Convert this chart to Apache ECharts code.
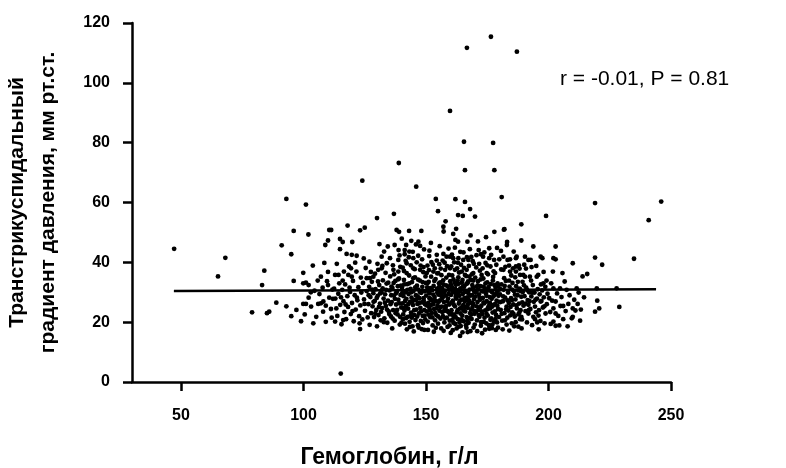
<!DOCTYPE html>
<html><head><meta charset="utf-8">
<script src="https://cdn.jsdelivr.net/npm/echarts@6/dist/echarts.min.js"></script>
<style>html,body{margin:0;padding:0;background:#fff}#c{width:786px;height:468px}</style>
</head><body><div id="c"></div>
<script>
const xTicks = [50, 100, 150, 200, 250];
const xTitle = 'Гемоглобин, г/л';
const yTitle = 'Транстрикуспидальный\nградиент давления, мм рт.ст.';
const statText = 'r = -0.01, P = 0.81';
const trendLine = [[47.1, 30.4], [243.9, 31.0]];
const points = [
[47.2,44.5],[65.1,35.3],[68.1,41.5],[79.0,23.3],[83.1,32.4],[84.0,37.2],[85.1,23.0],[86.0,23.5],[88.9,26.5],[91.1,45.7],[93.0,61.2],[93.0,25.3],[95.0,42.7],[95.0,22.0],[96.0,50.5],[96.0,33.8],[97.1,24.1],[99.0,20.3],[99.9,36.5],[99.9,33.0],[99.9,26.1],
[101.0,59.3],[101.0,33.2],[101.0,26.1],[102.0,49.3],[102.1,32.4],[102.1,28.2],[103.1,25.2],[106.0,26.1],[107.1,26.3],[107.1,35.2],[108.0,23.5],[108.1,26.9],[108.9,45.8],[109.1,25.5],[109.1,20.1],[110.0,47.3],[110.0,36.8],[110.0,32.4],[110.5,50.8],[110.5,28.2],
[104.5,30.5],[105.2,21.8],[103.8,38.9],[106.5,29.4],[111.2,24.4],[111.8,30.9],[104.0,19.6],[107.8,31.5],[111.5,21.5],[105.8,33.9],[100.5,22.6],[108.5,39.8],[112.0,27.8],[103.0,30.0],[109.6,33.7],
[111.3,50.8],[112.9,35.8],[112.9,20.2],[114.3,35.8],[114.9,47.8],[114.9,44.4],[115.2,2.8],[116.0,46.8],[116.2,20.7],[117.6,42.8],[118.0,52.3],[118.3,35.8],[119.7,42.5],[119.7,35.2],[119.9,46.8],[121.7,42.2],[123.1,50.7],[123.1,17.7],[124.0,67.3],[125.0,51.6],[125.8,34.7],
[112.5,31.2],[113.0,27.9],[113.4,24.6],[113.8,22.1],[114.2,29.5],[114.6,33.0],[115.0,25.8],[115.5,19.3],[115.8,30.8],[116.3,27.0],[116.7,23.4],[117.0,32.6],[117.4,21.0],[117.9,28.7],[118.2,25.1],[118.6,38.6],[119.0,30.1],[119.3,22.7],[119.8,26.4],[120.2,33.8],[120.5,20.3],[120.9,29.0],[121.3,24.2],[121.6,36.9],[122.0,27.3],[122.4,31.7],[122.7,22.0],[123.2,25.6],[123.6,29.9],[124.0,20.9],[124.3,33.1],[124.7,27.6],[125.1,23.8],[125.4,38.1],[125.8,30.4],[126.2,21.6],
[113.6,39.5],[116.5,36.9],[121.1,39.9],[124.6,41.3],
[115.3,28.3],[117.2,25.9],[118.8,31.5],[120.0,23.7],[121.8,28.2],[123.4,34.9],[124.9,26.1],[126.6,29.0],[127.5,36.8],[122.9,19.6],[119.4,38.0],[116.0,33.9],
[127.1,34.7],[128.5,35.2],[130.0,54.8],[130.5,37.5],[131.9,41.9],[131.9,38.0],[132.9,43.6],[135.3,41.4],[136.7,37.5],[136.9,56.2],[137.2,45.8],[138.0,50.8],[138.7,40.8],[138.7,36.9],[138.8,44.1],[138.9,73.2],[139.0,50.2],
[126.5,26.0],[126.8,31.8],[127.0,19.1],[127.3,28.4],[127.6,23.0],[127.9,33.5],[128.2,25.3],[128.5,29.7],[128.8,21.7],[129.1,27.1],[129.4,31.0],[129.7,24.1],[130.0,18.6],[129.2,36.2],[126.9,40.2],
[130.3,28.8],[130.6,22.4],[130.9,32.4],[131.2,26.2],[131.5,20.6],[131.8,30.0],[132.1,24.7],[132.4,34.0],[132.7,27.9],[133.0,21.3],[133.3,29.3],[133.6,25.4],[133.9,32.9],[134.2,19.8],[134.5,27.2],[134.8,23.6],[135.1,30.6],[135.4,35.3],[135.7,21.9],[132.2,38.8],[134.0,39.7],
[136.0,26.7],[136.3,31.4],[136.6,24.0],[136.9,28.9],[137.2,20.5],[137.5,33.8],[137.8,25.9],[138.1,30.2],[138.4,22.6],[138.7,27.5],[139.0,34.6],[139.3,19.2],[139.6,29.1],[139.9,24.9],[136.2,17.9],[137.0,36.0],[138.5,32.0],[139.5,38.5],[135.8,29.0],[137.6,23.0],
[128.0,30.9],[128.6,26.8],[129.3,22.9],[129.9,28.1],[130.4,33.6],[130.8,25.1],[131.3,29.6],[131.7,23.5],[132.3,31.3],[132.8,20.0],[133.2,26.5],[133.7,30.8],[134.1,24.2],[134.6,33.2],[135.0,22.7],[135.5,26.0],[135.9,31.9],[136.4,21.2],[136.8,33.1],[137.3,27.8],[137.7,29.6],[138.2,24.1],[138.6,34.3],[139.1,26.3],[139.4,21.8],[139.8,32.2],[130.2,39.5],[133.5,36.5],[136.5,39.0],[139.2,42.3],[134.4,45.3],[131.0,46.1],
[140.1,47.9],[141.3,44.1],[141.3,42.7],[141.9,45.8],[142.1,39.7],[142.1,36.4],[143.1,50.5],[143.2,43.6],[144.0,47.2],[144.8,41.4],[144.8,38.0],[145.9,46.0],[146.0,65.3],[146.9,46.9],[147.6,45.5],[147.6,37.5],[148.1,50.5],[148.2,17.7],[149.3,17.4],
[140.2,31.5],[140.4,26.3],[140.6,21.0],[140.8,28.7],[141.0,34.1],[141.2,23.9],[141.4,19.5],[141.6,30.0],[141.8,25.4],[142.0,27.8],[142.3,32.7],[142.5,21.8],[142.7,24.5],[142.9,29.4],[143.1,35.6],[143.3,20.1],[143.5,26.8],[143.7,31.1],[143.9,23.2],[144.1,28.2],[144.3,33.4],[144.5,18.6],[144.7,25.7],[144.9,30.4],[145.1,22.4],[145.3,27.4],[145.5,35.0],[145.7,20.7],[145.9,29.0],[146.1,24.2],[146.3,32.2],[146.5,26.1],[146.7,19.0],[146.9,30.9],[147.1,22.9],[147.3,28.0],[147.5,33.9],[147.7,24.8],[147.9,20.4],[148.1,29.8],[148.3,26.6],[148.5,31.8],[148.7,22.1],[148.9,36.7],[149.1,27.1],[149.3,24.0],[149.5,30.3],[149.7,20.9],[149.9,33.1],[140.5,38.2],[141.7,40.5],[143.8,39.0],[146.2,40.0],[148.4,41.0],[149.0,38.4],[142.2,17.6],[145.0,16.9],[147.0,18.2],[140.9,24.7],[144.2,21.5],[146.6,28.6],[149.6,26.0],
[140.3,29.7],[140.7,22.6],[141.1,32.6],[141.5,27.1],[141.9,21.4],[142.4,30.8],[142.8,26.0],[143.2,33.0],[143.6,22.0],[144.0,30.0],[144.4,26.9],[144.8,34.7],[145.2,24.0],[145.6,31.6],[146.0,27.5],[146.4,21.9],[146.8,34.2],[147.2,26.4],[147.6,30.0],[148.0,23.6],[148.6,33.4],[149.0,28.0],[149.4,22.2],[149.8,35.3],[141.0,37.1],[143.0,41.7],[145.4,37.7],[147.8,38.9],[149.2,44.3],[144.6,43.5],[146.8,42.2],[140.0,19.8],[143.4,18.4],[148.8,19.7],
[150.3,36.4],[151.3,42.1],[151.4,43.9],[153.0,36.9],[154.0,61.2],[154.4,42.5],[154.9,57.1],[155.0,36.4],[157.1,51.9],[157.1,42.8],[157.2,50.3],[157.8,37.5],[158.0,53.7],[158.4,41.9],[159.8,41.9],[159.8,38.0],[159.8,90.6],
[150.1,28.9],[150.3,23.6],[150.5,31.6],[150.7,20.2],[150.9,26.4],[151.1,33.5],[151.3,25.0],[151.5,29.6],[151.7,21.7],[151.9,27.7],[152.1,35.2],[152.3,23.1],[152.5,30.7],[152.7,18.9],[152.9,26.0],[153.1,32.1],[153.3,24.4],[153.5,28.4],[153.7,20.6],[153.9,34.4],[154.1,27.0],[154.3,22.3],[154.5,31.2],[154.7,25.6],[154.9,19.5],[155.1,29.2],[155.3,33.0],[155.5,23.8],[155.7,27.3],[155.9,21.2],[156.1,30.0],[156.3,35.7],[156.5,25.2],[156.7,28.1],[156.9,22.0],[157.1,32.6],[157.3,26.7],[157.5,19.9],[157.7,30.5],[157.9,24.6],[158.1,28.9],[158.3,34.9],[158.5,21.5],[158.7,27.0],[158.9,31.9],[159.1,23.4],[159.3,29.5],[159.5,25.9],[159.7,20.5],[159.9,33.7],[150.6,38.9],[152.2,40.1],[153.6,38.0],[155.4,39.4],[156.8,40.6],[158.6,38.7],[150.8,17.4],[153.2,16.8],[156.2,17.9],[158.8,18.4],[151.0,30.2],[152.4,27.3],[153.8,23.0],[155.2,26.8],[156.6,31.4],[157.4,23.7],[158.2,25.4],[159.4,30.8],[154.6,36.3],[151.6,24.1],[157.0,28.6],[155.8,33.3],
[150.2,25.6],[150.6,33.0],[151.0,22.5],[151.4,28.0],[151.8,31.4],[152.2,25.8],[152.6,21.6],[153.0,29.2],[153.4,33.8],[153.8,27.2],[154.2,24.6],[154.6,29.9],[155.0,21.9],[155.4,31.8],[155.8,25.0],[156.2,28.8],[156.6,23.4],[157.0,34.0],[157.4,29.9],[157.8,21.3],[158.2,32.3],[158.6,23.8],[159.0,27.9],[159.4,35.8],[159.8,22.6],[151.2,37.4],[152.8,39.2],[154.4,40.6],[156.0,37.9],[157.6,39.9],[159.2,44.6],[155.6,45.4],[152.0,46.5],[154.0,18.1],[157.2,17.1],[159.6,18.9],
[160.1,16.4],[161.1,49.5],[161.1,41.4],[161.8,37.5],[162.0,61.1],[162.0,47.5],[163.1,55.8],[163.1,46.9],[163.2,41.4],[163.9,15.4],[164.6,36.9],[165.0,55.5],[165.2,40.8],[165.9,60.2],[165.9,70.8],[166.6,37.5],[166.9,46.9],[167.3,40.8],[168.0,57.8],[169.3,36.4],[166.7,111.7],[165.5,80.3],
[160.2,29.1],[160.4,24.0],[160.6,31.7],[160.8,20.8],[161.0,27.2],[161.2,34.3],[161.4,22.5],[161.6,29.9],[161.8,25.3],[162.0,19.4],[162.2,32.5],[162.4,27.9],[162.6,23.3],[162.8,30.6],[163.0,21.0],[163.2,35.0],[163.4,26.2],[163.6,28.8],[163.8,24.5],[164.0,31.3],[164.2,18.7],[164.4,27.5],[164.6,33.2],[164.8,22.2],[165.0,29.4],[165.2,25.7],[165.4,20.3],[165.6,32.0],[165.8,26.9],[166.0,23.6],[166.2,30.1],[166.4,35.4],[166.6,21.7],[166.8,28.3],[167.0,24.8],[167.2,33.6],[167.4,19.8],[167.6,27.0],[167.8,30.9],[168.0,23.0],[168.2,26.5],[168.4,34.1],[168.6,21.1],[168.8,29.0],[169.0,25.1],[169.2,31.6],[169.4,18.2],[169.6,27.7],[169.8,22.8],[160.3,38.6],[161.5,40.0],[162.7,38.0],[164.3,39.2],[165.3,43.3],[167.5,38.8],[168.5,41.8],[169.5,39.5],[160.9,17.3],[162.5,17.9],[164.9,16.6],[166.5,18.1],[168.1,17.0],[169.9,19.2],[160.5,26.6],[161.3,22.0],[162.1,28.5],[162.9,33.9],[163.7,20.0],[164.5,24.9],[165.1,31.9],[165.7,28.0],[166.3,19.0],[166.9,33.0],[167.3,29.7],[168.3,24.2],[168.9,32.4],[169.3,26.0],[160.7,35.6],[163.5,36.6],[165.9,35.8],[168.7,36.0],[161.9,31.1],[164.1,22.9],[166.1,27.4],[167.9,21.4],[169.7,30.2],[163.3,30.0],[167.1,25.9],
[160.1,32.7],[160.5,22.7],[160.9,30.3],[161.3,25.9],[161.7,33.2],[162.1,21.7],[162.5,29.3],[162.9,24.0],[163.3,32.8],[163.7,27.0],[164.1,30.4],[164.5,20.9],[164.9,34.1],[165.3,23.9],[165.7,30.6],[166.1,25.0],[166.5,32.8],[166.9,20.4],[167.3,27.6],[167.7,35.2],[168.1,28.9],[168.5,22.6],[168.9,26.4],[169.3,33.9],[169.7,23.7],[160.6,42.6],[161.8,44.9],[163.0,39.9],[164.0,43.5],[165.5,38.1],[166.7,41.7],[167.9,44.4],[169.1,40.4],[162.3,51.2],[168.2,49.0],[163.4,18.5],[167.0,16.7],[161.2,19.8],
[170.0,55.3],[171.5,44.1],[172.4,42.7],[172.7,35.8],[173.3,41.9],[174.8,36.4],[175.8,44.7],[175.8,41.4],[177.1,19.2],[177.8,40.8],[177.9,50.2],[177.9,70.8],[178.2,36.4],[179.9,41.0],[176.5,115.4],[177.4,79.9],
[170.2,28.6],[170.4,23.5],[170.6,31.8],[170.8,20.6],[171.0,26.7],[171.2,33.7],[171.4,24.1],[171.6,29.3],[171.8,21.8],[172.0,27.5],[172.2,32.0],[172.4,18.8],[172.6,25.5],[172.8,30.4],[173.0,22.7],[173.2,28.1],[173.4,34.6],[173.6,20.1],[173.8,26.3],[174.0,31.1],[174.2,23.9],[174.4,29.7],[174.6,19.6],[174.8,27.0],[175.0,33.3],[175.2,22.2],[175.4,25.0],[175.6,30.6],[175.8,17.8],[176.0,28.4],[176.2,24.6],[176.4,32.7],[176.6,21.3],[176.8,27.8],[177.0,30.0],[177.2,23.2],[177.4,35.1],[177.6,25.8],[177.8,20.2],[178.0,29.1],[178.2,26.0],[178.4,31.5],[178.6,22.4],[178.8,27.2],[179.0,19.9],[179.2,33.0],[179.4,24.4],[179.6,28.8],[179.8,21.7],[170.5,38.3],[171.7,39.5],[173.1,38.0],[174.3,39.8],[176.3,38.6],[178.7,39.2],[170.9,17.0],[172.9,16.3],[174.1,17.5],[176.9,18.0],[178.5,17.4],[170.1,34.9],[171.3,30.9],[172.1,25.0],[173.5,31.9],[174.7,22.8],[175.3,36.0],[176.1,26.4],[177.3,33.9],[178.1,23.6],[179.3,30.5],[179.9,26.8],
[170.3,30.1],[170.7,25.3],[171.1,32.3],[171.5,22.4],[171.9,28.2],[172.3,34.3],[172.7,23.6],[173.1,30.3],[173.5,26.6],[173.9,21.5],[174.3,33.0],[174.7,28.8],[175.1,24.3],[175.5,31.7],[175.9,26.0],[176.3,20.8],[176.7,30.4],[177.1,25.2],[177.5,28.6],[177.9,32.4],[178.3,21.0],[178.7,29.7],[179.1,25.5],[179.5,32.1],[170.6,42.4],[172.0,37.2],[173.8,43.3],[175.0,39.0],[176.6,42.5],[177.6,37.0],[179.0,44.8],[171.2,47.0],[174.5,48.4],[172.5,20.0],[175.7,19.0],[179.4,18.2],
[180.9,61.8],[181.6,41.9],[181.6,37.5],[181.8,50.9],[182.0,51.1],[182.9,19.2],[183.0,45.8],[183.1,46.8],[183.3,40.8],[184.3,36.9],[184.3,41.0],[185.2,23.3],[186.7,41.4],[186.7,38.6],[186.7,36.9],[187.0,41.9],[187.1,110.4],[187.7,18.5],[188.4,35.8],[188.4,21.0],[188.9,52.7],[188.9,47.3],[188.9,21.8],[189.7,35.8],
[180.2,29.3],[180.5,24.1],[180.8,32.6],[181.1,20.5],[181.4,27.0],[181.7,30.8],[182.0,23.0],[182.3,28.2],[182.6,33.8],[182.9,25.2],[183.2,21.5],[183.5,29.9],[183.8,26.4],[184.1,31.9],[184.4,22.3],[184.7,28.0],[185.0,19.6],[185.3,33.1],[185.6,25.9],[185.9,30.4],[186.2,21.9],[186.5,27.6],[186.8,32.0],[187.1,24.6],[187.4,29.0],[187.7,22.6],[188.0,26.2],[188.3,31.2],[188.6,24.0],[188.9,28.5],[189.2,20.9],[189.5,30.1],[189.8,25.5],[180.7,37.6],[182.4,38.5],[185.5,38.0],[187.9,39.0],[181.3,17.6],[184.0,17.2],[186.0,18.6],[189.0,17.9],[180.4,26.7],[181.9,34.7],[183.6,23.9],[185.1,27.4],[186.4,35.0],[187.6,30.6],[189.4,33.5],
[180.3,31.0],[180.9,22.8],[181.5,28.6],[182.1,32.1],[182.7,24.3],[183.3,27.3],[183.9,33.9],[184.5,25.1],[185.1,30.9],[185.7,22.8],[186.3,29.2],[186.9,25.6],[187.5,33.5],[188.1,23.2],[188.7,30.4],[189.3,26.6],[190.0,32.3],[190.7,26.2],[191.3,30.7],[191.9,24.0],[180.6,43.8],[183.9,38.9],[185.8,43.6],[188.2,37.9],[190.1,39.2],[182.2,20.6],[186.6,20.0],[184.8,35.6],
[190.4,41.9],[190.4,35.2],[191.8,40.8],[191.8,25.8],[191.8,22.9],[192.4,35.2],[192.7,40.8],[193.8,45.3],[193.8,21.8],[194.5,25.2],[194.5,21.0],[195.2,35.2],[195.8,35.8],[196.0,17.6],[196.8,41.9],[196.8,26.9],[197.5,41.4],[197.9,33.0],[198.8,22.9],[199.0,55.5],
[190.2,28.7],[190.6,23.7],[190.9,31.5],[191.2,19.9],[191.5,27.4],[192.1,30.0],[192.6,24.4],[193.0,28.6],[193.3,19.0],[193.6,32.4],[194.0,26.8],[194.3,29.9],[194.9,23.3],[195.3,27.9],[195.6,31.0],[196.1,24.0],[196.4,29.3],[196.7,20.4],[197.1,27.1],[197.4,30.6],[197.7,24.9],[198.1,28.3],[198.4,19.6],[198.7,31.8],[199.3,26.0],[199.6,29.5],[190.8,37.9],[193.1,38.4],[195.0,38.8],[198.0,36.8],
[192.3,27.0],[193.5,29.9],[194.7,27.5],[195.9,22.2],[196.9,32.6],[198.3,25.3],[199.2,33.9],[192.9,33.9],[195.4,19.9],
[202.0,41.4],[202.0,31.3],[202.0,24.6],[202.0,20.2],[202.9,45.3],[202.9,41.0],[202.9,26.9],[202.9,22.9],[202.9,18.8],[204.7,31.3],[204.9,25.4],[206.0,25.4],[206.0,21.0],[207.4,30.8],[208.1,26.1],[209.5,21.3],[209.9,39.7],[209.9,24.6],[209.9,21.8],[211.5,31.3],[211.9,26.1],[212.9,20.5],[213.9,35.3],
[200.3,28.0],[200.7,23.4],[201.1,33.0],[201.5,27.2],[203.5,29.6],[204.0,22.1],[205.3,28.4],[206.6,33.6],[207.0,23.7],[208.6,29.0],[210.5,27.5],[211.0,23.9],[212.3,29.9],[200.9,19.4],[204.4,18.9],[205.7,36.4],[207.8,18.6],[213.2,24.2],[214.5,28.3],[201.8,36.9],
[215.8,36.1],[219.0,59.8],[219.0,41.6],[219.0,23.5],[219.7,31.3],[219.9,27.2],[220.7,24.6],[221.9,39.2],[227.8,31.3],[228.9,25.1],[234.9,41.2],[240.9,54.1],[246.0,60.3]
];

const FONT = '"Liberation Sans", Arial, sans-serif';
const chart = echarts.init(document.getElementById('c'));
chart.setOption({
  animation: false,
  backgroundColor: '#fff',
  grid: { left: 132, right: 115, top: 23, bottom: 86, containLabel: false, outerBoundsMode: 'none' },
  xAxis: {
    type: 'value', min: 30, max: 250, position: 'bottom',
    splitLine: { show: false },
    axisLine: { show: true, onZero: false, lineStyle: { color: '#000', width: 2.5 } },
    axisTick: { show: true, customValues: xTicks, length: 9, lineStyle: { color: '#000', width: 2.5 } },
    axisLabel: { customValues: xTicks, margin: 26, color: '#000', fontSize: 16, fontWeight: 'bold', fontFamily: FONT },
    name: xTitle, nameLocation: 'middle', nameGap: 64,
    nameTextStyle: { color: '#000', fontSize: 23, fontWeight: 'bold', fontFamily: FONT, padding: [0, 24, 0, 0] }
  },
  yAxis: {
    type: 'value', min: 0, max: 120, interval: 20, position: 'left',
    splitLine: { show: false },
    axisLine: { show: true, onZero: false, lineStyle: { color: '#000', width: 2.5 } },
    axisTick: { show: true, length: 9, lineStyle: { color: '#000', width: 2.5 } },
    axisLabel: { margin: 22, color: '#000', fontSize: 16, fontWeight: 'bold', fontFamily: FONT },
    name: yTitle, nameLocation: 'middle', nameGap: 68, nameRotate: 90,
    nameTextStyle: { color: '#000', fontSize: 21, fontWeight: 'bold', fontFamily: FONT, lineHeight: 31, align: 'center' }
  },
  graphic: [{
    type: 'text', left: 560, top: 69,
    style: { text: statText, fill: '#000', fontSize: 21, fontFamily: FONT }
  }],
  series: [
    { type: 'scatter', data: points, symbol: 'circle', symbolSize: 4.8, itemStyle: { color: '#000', opacity: 1 }, silent: true },
    { type: 'line', data: trendLine, symbol: 'none', lineStyle: { color: '#000', width: 2.5 }, silent: true, z: 3 }
  ]
});
</script>
</body></html>
